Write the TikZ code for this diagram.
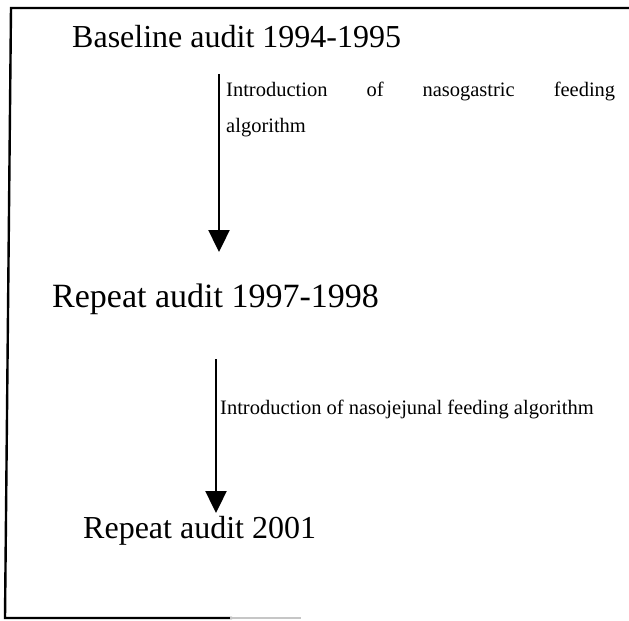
\documentclass[tikz,border=0pt]{standalone}
\usepackage{fontspec}
\setmainfont{Liberation Serif}
\usetikzlibrary{arrows.meta}
\begin{document}
\begin{tikzpicture}[x=1bp,y=-1bp,
  frame/.style={line width=2.4bp,line cap=rect},
  flow/.style={line width=2.4bp,-{Triangle[width=21bp,length=22bp]}},
  big/.style={inner sep=0,anchor=base west,font=\fontsize{32bp}{38bp}\selectfont},
  small/.style={inner sep=0,anchor=base west,font=\fontsize{20.5bp}{36bp}\selectfont}]
\useasboundingbox (0,0) rectangle (629,621);
% open frame: top and left sides, part of the bottom
\draw[frame] (629,8) -- (11,8) -- (5,618) -- (231,618);
\draw[frame,gray!45] (231,618) -- (300,618);

% stages
\node[big] (baseline) at (72,48) {Baseline audit 1994-1995};
\node[big,font=\fontsize{34bp}{40bp}\selectfont] (repeatA) at (52,307) {Repeat audit 1997-1998};
\node[big] (repeatB) at (83,538) {Repeat audit 2001};

% interventions
\node[small] (introA) at (226,97) {\makebox[389bp][s]{Introduction of nasogastric feeding}};
\node[small] (introB) at (226,133) {algorithm};
\node[small] (introC) at (220,414) {Introduction of nasojejunal feeding algorithm};

% arrows between stages
\coordinate (a1top) at (219,74);
\coordinate (a1tip) at (219,252);
\draw[flow] (a1top) -- (a1tip);
\coordinate (a2top) at (216,359);
\coordinate (a2tip) at (216,513);
\draw[flow] (a2top) -- (a2tip);
\end{tikzpicture}
\end{document}
